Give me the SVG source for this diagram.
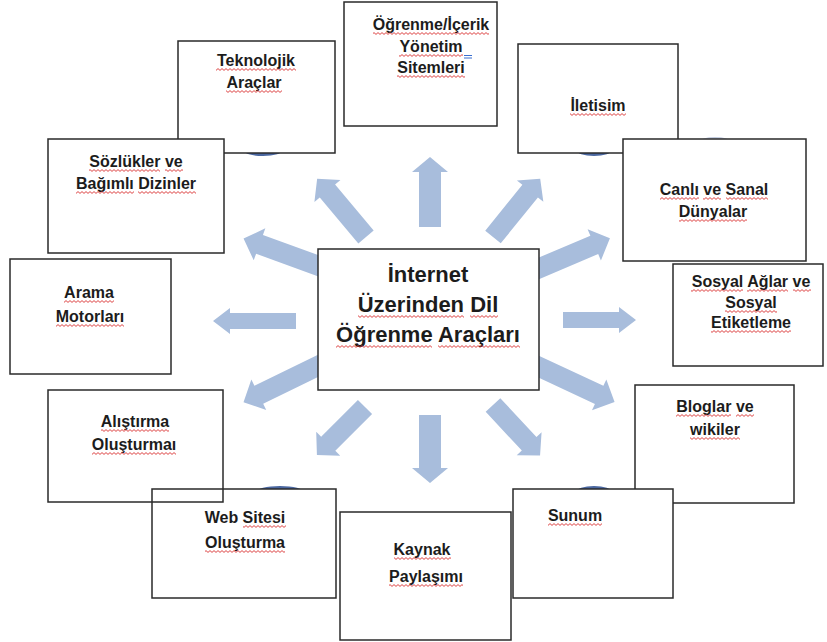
<svg xmlns="http://www.w3.org/2000/svg" width="827" height="642" viewBox="0 0 827 642">
<defs>
<pattern id="sq" patternUnits="userSpaceOnUse" x="0" y="0" width="4" height="3">
<path d="M0,2.4L2,0.6L4,2.4" fill="none" stroke="#d93030" stroke-width="0.9"/>
</pattern>
</defs>
<style>
.box{fill:#fff;stroke:#2a2a2a;stroke-width:1.5}
.t{font-family:"Liberation Sans",Arial,sans-serif;font-weight:bold;font-size:16px;fill:#1c1c1c;text-anchor:middle}
.c{font-size:22px}
.w{fill:url(#sq)}
.ar{fill:#a8bddc}
.arc{fill:#4a67a0}
</style>
<rect width="827" height="642" fill="#fff"/>
<g id="arcs">
<ellipse class="arc" cx="263" cy="150" rx="20" ry="6"/>
<ellipse class="arc" cx="594" cy="150" rx="18" ry="6"/>
<ellipse class="arc" cx="280" cy="492" rx="24" ry="6"/>
<ellipse class="arc" cx="594" cy="492" rx="18" ry="6"/>
<ellipse class="arc" cx="715" cy="142" rx="16" ry="5" opacity="0.35"/>
</g>
<g id="connectors">
<path class="ar" transform="translate(430,227) rotate(-90)" d="M0,-11H55V-18L70,0L55,18V11H0Z"/>
<path class="ar" transform="translate(366,237) rotate(-130)" d="M0,-10H60V-17L76,0L60,17V10H0Z"/>
<path class="ar" transform="translate(493,237) rotate(-51)" d="M0,-10H59V-17L75,0L59,17V10H0Z"/>
<path class="ar" transform="translate(330,270) rotate(200)" d="M0,-10H75V-17L92,0L75,17V10H0Z"/>
<path class="ar" transform="translate(528,273) rotate(-23)" d="M0,-10H72V-17L89,0L72,17V10H0Z"/>
<path class="ar" transform="translate(296,321) rotate(180)" d="M0,-8H66V-13L83,0L66,13V8H0Z"/>
<path class="ar" transform="translate(563,320)" d="M0,-8H56V-13L73,0L56,13V8H0Z"/>
<path class="ar" transform="translate(328,361) rotate(154)" d="M0,-10H77V-17L94,0L77,17V10H0Z"/>
<path class="ar" transform="translate(365,407) rotate(135)" d="M0,-10H52V-17L68,0L52,17V10H0Z"/>
<path class="ar" transform="translate(430,415) rotate(90)" d="M0,-11H53V-18L68,0L53,18V11H0Z"/>
<path class="ar" transform="translate(493,405) rotate(47)" d="M0,-10H53V-17L69,0L53,17V10H0Z"/>
<path class="ar" transform="translate(533,364) rotate(25)" d="M0,-10H73V-17L90,0L73,17V10H0Z"/>
</g>
<g id="center">
<rect class="box" x="318" y="249" width="221" height="141"/>
<text class="t c" x="428" y="282">İnternet</text>
<text class="t c" x="428" y="312">Üzerinden Dil</text>
<text class="t c" x="428" y="342">Öğrenme Araçları</text>
<rect class="w" transform="translate(0,315)" x="358" y="0" width="106" height="3"/>
<rect class="w" transform="translate(0,315)" x="470" y="0" width="28" height="3"/>
<rect class="w" transform="translate(0,345)" x="336" y="0" width="96" height="3"/>
<rect class="w" transform="translate(0,345)" x="438" y="0" width="82" height="3"/>
</g>
<g id="ogrenme">
<rect class="box" x="344" y="2" width="153" height="124"/>
<text class="t" x="431" y="30">Öğrenme/İçerik</text>
<text class="t" x="431" y="52">Yönetim</text>
<text class="t" x="431" y="73">Sitemleri</text>
<rect class="w" transform="translate(0,32)" x="373" y="0" width="116" height="3"/>
<rect class="w" transform="translate(0,54)" x="399" y="0" width="64" height="3"/>
<rect class="w" transform="translate(0,75)" x="397" y="0" width="68" height="3"/>
<path d="M464,55.5H472M464,58H472" stroke="#3a6fd0" stroke-width="1"/>
</g>
<g id="teknolojik">
<rect class="box" x="178" y="41" width="157" height="112"/>
<text class="t" x="256" y="66">Teknolojik</text>
<text class="t" x="254" y="88">Araçlar</text>
<rect class="w" transform="translate(0,68)" x="216" y="0" width="80" height="3"/>
<rect class="w" transform="translate(0,90)" x="226" y="0" width="56" height="3"/>
</g>
<g id="sozlukler">
<rect class="box" x="48" y="139" width="176" height="114"/>
<text class="t" x="136" y="167">Sözlükler ve</text>
<text class="t" x="136" y="189">Bağımlı Dizinler</text>
<rect class="w" transform="translate(0,169)" x="89" y="0" width="71" height="3"/>
<rect class="w" transform="translate(0,169)" x="165" y="0" width="18" height="3"/>
<rect class="w" transform="translate(0,191)" x="76" y="0" width="58" height="3"/>
<rect class="w" transform="translate(0,191)" x="138" y="0" width="58" height="3"/>
</g>
<g id="iletisim">
<rect class="box" x="518" y="44" width="160" height="109"/>
<text class="t" x="598" y="111">İletisim</text>
<rect class="w" transform="translate(0,113)" x="570" y="0" width="56" height="3"/>
</g>
<g id="canli">
<rect class="box" x="623" y="139" width="183" height="122"/>
<text class="t" x="714" y="195">Canlı ve Sanal</text>
<text class="t" x="713" y="217">Dünyalar</text>
<rect class="w" transform="translate(0,197)" x="660" y="0" width="39" height="3"/>
<rect class="w" transform="translate(0,197)" x="703" y="0" width="18" height="3"/>
<rect class="w" transform="translate(0,197)" x="726" y="0" width="42" height="3"/>
<rect class="w" transform="translate(0,219)" x="679" y="0" width="68" height="3"/>
</g>
<g id="sosyal">
<rect class="box" x="673" y="264" width="150" height="102"/>
<text class="t" x="751" y="287">Sosyal Ağlar ve</text>
<text class="t" x="751" y="308">Sosyal</text>
<text class="t" x="751" y="328">Etiketleme</text>
<rect class="w" transform="translate(0,289)" x="691" y="0" width="52" height="3"/>
<rect class="w" transform="translate(0,289)" x="747" y="0" width="41" height="3"/>
<rect class="w" transform="translate(0,289)" x="793" y="0" width="18" height="3"/>
<rect class="w" transform="translate(0,310)" x="725" y="0" width="52" height="3"/>
<rect class="w" transform="translate(0,330)" x="711" y="0" width="80" height="3"/>
</g>
<g id="bloglar">
<rect class="box" x="635" y="385" width="159" height="118"/>
<text class="t" x="715" y="412">Bloglar ve</text>
<text class="t" x="715" y="435">wikiler</text>
<rect class="w" transform="translate(0,414)" x="676" y="0" width="55" height="3"/>
<rect class="w" transform="translate(0,414)" x="736" y="0" width="18" height="3"/>
<rect class="w" transform="translate(0,437)" x="690" y="0" width="50" height="3"/>
</g>
<g id="arama">
<rect class="box" x="10" y="259" width="161" height="115"/>
<text class="t" x="89" y="298">Arama</text>
<text class="t" x="90" y="322">Motorları</text>
<rect class="w" transform="translate(0,300)" x="64" y="0" width="50" height="3"/>
<rect class="w" transform="translate(0,324)" x="56" y="0" width="68" height="3"/>
</g>
<g id="web">
<rect class="box" x="152" y="489" width="184" height="109"/>
<text class="t" x="245" y="523">Web Sitesi</text>
<text class="t" x="245" y="548">Oluşturma</text>
<rect class="w" transform="translate(0,525)" x="243" y="0" width="43" height="3"/>
<rect class="w" transform="translate(0,550)" x="205" y="0" width="80" height="3"/>
</g>
<g id="alistirma">
<rect class="box" x="48" y="390" width="175" height="112" style="fill:none"/>
<text class="t" x="135" y="427">Alıştırma</text>
<text class="t" x="134" y="450">Oluşturmaı</text>
<rect class="w" transform="translate(0,429)" x="101" y="0" width="68" height="3"/>
<rect class="w" transform="translate(0,452)" x="92" y="0" width="84" height="3"/>
</g>
<g id="kaynak">
<rect class="box" x="340" y="512" width="171" height="128"/>
<text class="t" x="422" y="555">Kaynak</text>
<text class="t" x="426" y="582">Paylaşımı</text>
<rect class="w" transform="translate(0,557)" x="394" y="0" width="57" height="3"/>
<rect class="w" transform="translate(0,584)" x="389" y="0" width="74" height="3"/>
</g>
<g id="sunum">
<rect class="box" x="513" y="489" width="160" height="109"/>
<text class="t" x="575" y="521">Sunum</text>
<rect class="w" transform="translate(0,523)" x="548" y="0" width="54" height="3"/>
</g>
</svg>
